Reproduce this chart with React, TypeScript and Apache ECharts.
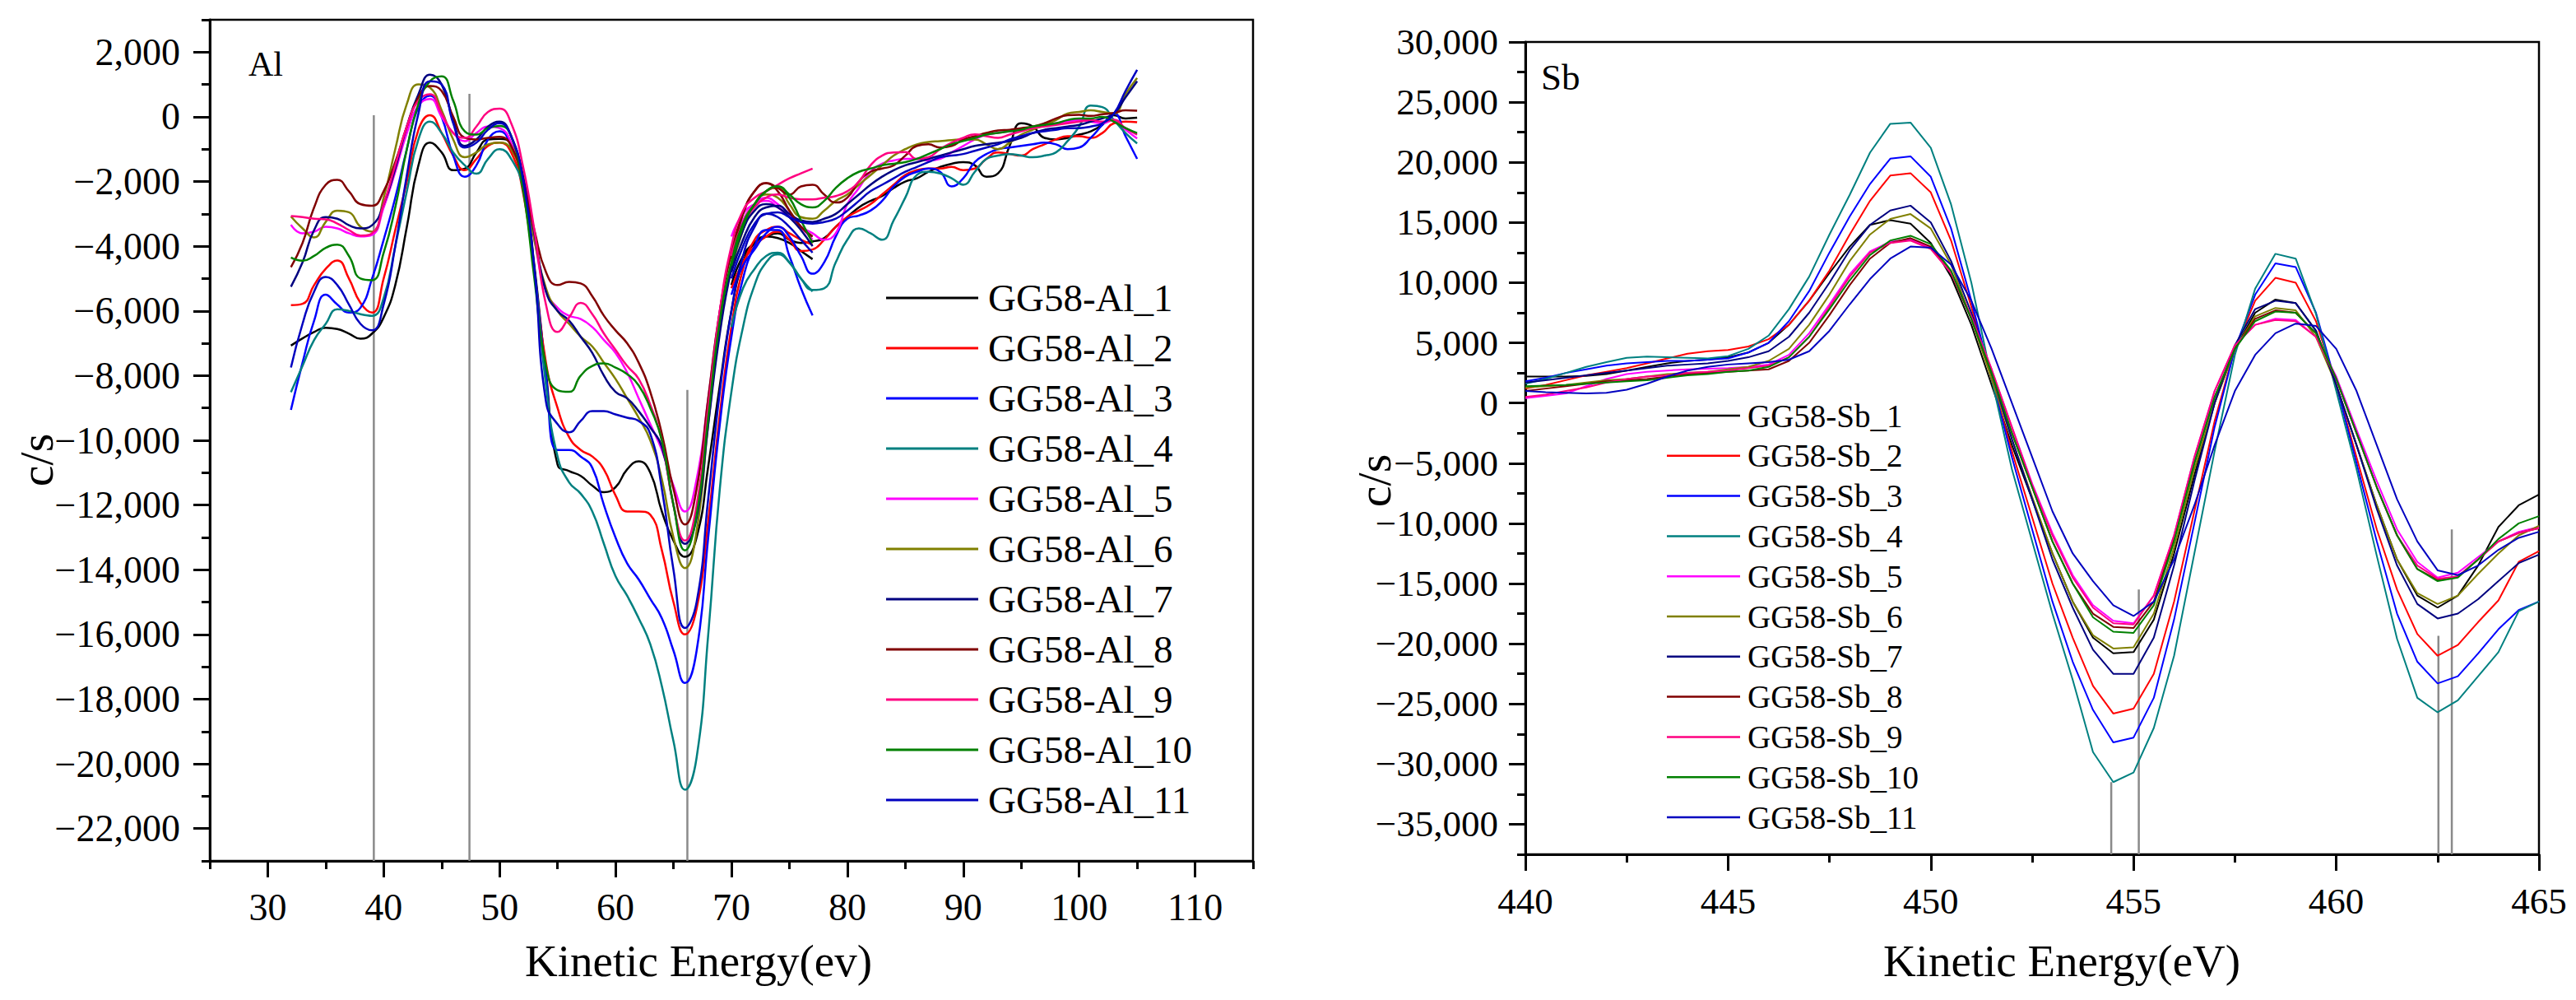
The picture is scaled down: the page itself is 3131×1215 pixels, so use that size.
import React, { useEffect, useRef } from 'react';
import * as echarts from 'echarts';

const FONT = "'Liberation Serif', 'Times New Roman', Times, serif";

// ---------- Al panel ----------
const alXA = [32, 33, 34, 35, 36, 37, 38, 39, 40, 41, 42, 43, 44, 45, 46, 47, 48, 49, 50, 51, 52, 53, 54, 55, 56, 57, 58, 59, 60, 61, 62, 63, 64, 65, 66, 67, 68, 69, 70, 71, 72, 73, 74, 75, 76, 77];
const alXB = [70, 71, 72, 73, 74, 75, 76, 77, 78, 79, 80, 81, 82, 83, 84, 85, 86, 87, 88, 89, 90, 91, 92, 93, 94, 95, 96, 97, 98, 99, 100, 101, 102, 103, 104, 105];

const al1A = [-7070, -6850, -6650, -6520, -6560, -6700, -6860, -6700, -6200, -5200, -3400, -1500, -800, -1100, -1650, -1600, -1100, -700, -680, -850, -1800, -4600, -7900, -10750, -10950, -11100, -11400, -11600, -11450, -10900, -10650, -11000, -12200, -13100, -13600, -13000, -10800, -8300, -6000, -4500, -3900, -3700, -3750, -3900, -4150, -4400];
const al2A = [-5820, -5780, -5200, -4700, -4440, -5000, -5750, -6050, -5000, -3500, -2000, -400, 50, -500, -1200, -1650, -1300, -900, -800, -1100, -2300, -4800, -7600, -9000, -9900, -10300, -10500, -10900, -11700, -12200, -12200, -12300, -13400, -15000, -16000, -15200, -12500, -9200, -6500, -4700, -3800, -3500, -3400, -3600, -3800, -3950];
const al3A = [-9060, -7600, -6300, -5500, -5800, -6050, -5900, -5000, -3800, -2500, -1000, 300, 650, 0, -1200, -1850, -1500, -700, -450, -900, -1900, -4700, -8000, -10300, -10300, -10500, -10850, -12000, -13000, -13800, -14300, -14900, -15500, -16500, -17500, -16500, -13000, -9500, -6800, -5000, -4000, -3500, -3500, -4300, -5300, -6140];
const al4A = [-8510, -7700, -6900, -6400, -5950, -6000, -6100, -6150, -5600, -4000, -2300, -700, -150, -500, -1100, -1500, -1760, -1300, -1000, -1300, -2200, -4800, -8300, -10500, -11300, -11650, -12200, -13200, -14200, -14800, -15500, -16300, -17600, -19300, -20800, -19800, -16000, -11500, -8500, -6500, -5200, -4500, -4250, -4500, -5000, -5400];
const al5A = [-3340, -3600, -3550, -3400, -3450, -3600, -3700, -3650, -2800, -1700, -500, 350, 550, 0, -500, -750, -500, -300, -350, -800, -2000, -3800, -5400, -5900, -6150, -6250, -6500, -6900, -7300, -7900, -8700, -9500, -10300, -11400, -12200, -11200, -8700, -6000, -4200, -3200, -2700, -2500, -2700, -3000, -3400, -3800];
const al6A = [-3080, -3450, -3730, -3250, -2900, -2950, -3400, -3550, -2500, -1000, 400, 1000, 900, 200, -700, -1250, -1100, -850, -800, -1000, -2000, -3800, -5300, -6000, -6400, -6800, -7100, -7600, -8100, -8700, -9300, -10000, -11200, -13000, -13950, -12800, -9500, -6500, -4500, -3300, -2700, -2400, -2500, -2900, -3400, -3700];
const al7A = [-5250, -4500, -3500, -3100, -3150, -3350, -3450, -3350, -2700, -1600, -300, 700, 1300, 1000, -100, -900, -700, -300, -150, -600, -1800, -3600, -5400, -6000, -6300, -6800, -7300, -8000, -8500, -8700, -9100, -9600, -10200, -12000, -13200, -12400, -9500, -6700, -4700, -3500, -2900, -2700, -2800, -3100, -3500, -4000];
const al8A = [-4650, -3900, -2800, -2100, -1950, -2300, -2700, -2750, -2300, -1400, -300, 600, 950, 800, 0, -650, -700, -650, -620, -900, -2000, -3500, -4800, -5200, -5100, -5150, -5550, -6150, -6600, -7000, -7600, -8500, -9800, -11500, -12600, -11500, -8700, -6000, -4200, -3000, -2300, -2050, -2300, -2900, -3400, -3700];
const al9A = [-3065, -3100, -3150, -3170, -3300, -3500, -3670, -3600, -2700, -1500, -300, 500, 700, 100, -500, -650, -300, 150, 250, -200, -1500, -3500, -5800, -6650, -6200, -5750, -6100, -6700, -7200, -7700, -8100, -8900, -10000, -12000, -13100, -12000, -9000, -6000, -4000, -2900, -2500, -2300, -2100, -1900, -1750, -1600];
const al10A = [-4350, -4450, -4300, -4050, -3950, -4300, -5000, -5050, -4200, -2800, -1000, 400, 1100, 1250, 500, -450, -550, -350, -280, -600, -2200, -5000, -7700, -8450, -8500, -8000, -7700, -7620, -7750, -7950, -8300, -9000, -10000, -12000, -13400, -12300, -9300, -6300, -4500, -3300, -2700, -2300, -2150, -2500, -3200, -3900];
const al11A = [-7750, -6400, -5400, -4950, -5200, -5800, -6400, -6600, -5800, -4000, -1800, 100, 1100, 1000, -200, -950, -800, -400, -200, -600, -1900, -4700, -8800, -9500, -9750, -9400, -9100, -9100, -9200, -9300, -9400, -9800, -11500, -14000, -15800, -15000, -11800, -8500, -6000, -4300, -3400, -3000, -3100, -3400, -3800, -4200];

const al1B = [-5200, -4300, -3900, -3700, -3600, -3800, -3900, -3850, -3750, -3400, -3100, -2800, -2600, -2450, -2200, -2000, -1900, -1700, -1550, -1450, -1400, -1500, -1850, -1750, -900, -200, -300, -650, -700, -650, -550, -450, -250, 50, -50, -30];
const al2B = [-5300, -4500, -4000, -3700, -3550, -3800, -4150, -4100, -3800, -3400, -3100, -2900, -2700, -2400, -2100, -1800, -1650, -1600, -1600, -1550, -1650, -1600, -1300, -1100, -1150, -1200, -1000, -850, -700, -600, -600, -650, -500, -200, -150, -170];
const al3B = [-5500, -4600, -4100, -3600, -3400, -3700, -4300, -4850, -4500, -3700, -3150, -3050, -2900, -2600, -2150, -1850, -1700, -1600, -1700, -2150, -1900, -1400, -1150, -1000, -950, -900, -850, -800, -850, -1000, -950, -650, -250, 100, -600, -1300];
const al4B = [-6500, -5300, -4700, -4300, -4200, -4500, -5000, -5350, -5300, -4500, -3800, -3450, -3600, -3800, -3200, -2500, -1800, -1700, -1750, -1900, -2100, -1700, -1300, -1200, -1150, -1200, -1250, -1200, -1100, -750, -300, 350, 300, -100, -500, -820];
const al5B = [-3700, -3000, -2700, -2600, -2800, -3100, -3400, -3600, -3800, -3600, -2700, -2200, -1700, -1450, -1350, -1300, -1300, -1350, -1300, -1100, -900, -700, -550, -500, -450, -400, -350, -250, -200, -150, -100, -150, -200, -100, -400, -670];
const al6B = [-4700, -3500, -2700, -2300, -2200, -2700, -3100, -3150, -2900, -2600, -2400, -2100, -1800, -1500, -1200, -1000, -850, -780, -750, -720, -700, -700, -850, -1000, -800, -550, -400, -250, -100, 100, 150, 200, 150, 100, 700, 1200];
const al7B = [-4800, -3800, -3100, -2800, -2750, -3000, -3200, -3250, -3150, -3000, -2700, -2400, -2100, -1850, -1650, -1500, -1400, -1300, -1200, -1100, -1000, -900, -850, -800, -750, -650, -500, -400, -350, -300, -250, -150, -50, 100, 600, 1100];
const al8B = [-4400, -3000, -2300, -2050, -2200, -2400, -2150, -2100, -2400, -2650, -2500, -2000, -1700, -1600, -1500, -1200, -900, -850, -950, -900, -700, -600, -500, -420, -400, -350, -300, -200, -50, 50, 60, 30, 80, 120, 200, 190];
const al9B = [-4300, -3300, -2800, -2500, -2400, -2500, -2550, -2550, -2500, -2450, -2300, -2000, -1500, -1200, -1100, -1090, -1300, -1250, -1000, -800, -650, -540, -600, -650, -550, -450, -350, -300, -250, -200, -150, -100, -150, -100, -350, -550];
const al10B = [-4600, -3400, -2700, -2300, -2150, -2400, -2700, -2800, -2600, -2200, -1900, -1700, -1600, -1500, -1450, -1400, -1300, -1150, -1000, -850, -750, -650, -550, -500, -450, -400, -300, -250, -200, -100, -50, -50, 0, -150, -350, -500];
const al11B = [-5000, -4000, -3300, -3000, -2950, -3100, -3250, -3300, -3250, -3150, -2900, -2600, -2300, -2100, -1900, -1700, -1550, -1400, -1250, -1200, -1150, -1050, -950, -850, -700, -600, -500, -450, -400, -350, -350, -300, -200, 100, 800, 1450];

const alNames = ['GG58-Al_1', 'GG58-Al_2', 'GG58-Al_3', 'GG58-Al_4', 'GG58-Al_5', 'GG58-Al_6', 'GG58-Al_7', 'GG58-Al_8', 'GG58-Al_9', 'GG58-Al_10', 'GG58-Al_11'];
const alSegA = [al1A, al2A, al3A, al4A, al5A, al6A, al7A, al8A, al9A, al10A, al11A];
const alSegB = [al1B, al2B, al3B, al4B, al5B, al6B, al7B, al8B, al9B, al10B, al11B];

const alMarkX = [39.15, 47.4, 66.2];
const alMarkTop = [50, 710, -8440];

const alXMajor = [30, 40, 50, 60, 70, 80, 90, 100, 110];
const alXMinor = [25, 35, 45, 55, 65, 75, 85, 95, 105, 115];
const alYMajor = [-22000, -20000, -18000, -16000, -14000, -12000, -10000, -8000, -6000, -4000, -2000, 0, 2000];
const alYMinor = [-23000, -21000, -19000, -17000, -15000, -13000, -11000, -9000, -7000, -5000, -3000, -1000, 1000, 3000];

// ---------- Sb panel ----------
const sbX = [440, 440.5, 441, 441.5, 442, 442.5, 443, 443.5, 444, 444.5, 445, 445.5, 446, 446.5, 447, 447.5, 448, 448.5, 449, 449.5, 450, 450.5, 451, 451.5, 452, 452.5, 453, 453.5, 454, 454.5, 455, 455.5, 456, 456.5, 457, 457.5, 458, 458.5, 459, 459.5, 460, 460.5, 461, 461.5, 462, 462.5, 463, 463.5, 464, 464.5, 465];

const sb1 = [2200, 2200, 2200, 2250, 2400, 2700, 3000, 3300, 3500, 3600, 3800, 4200, 5000, 6500, 8500, 10800, 13000, 14800, 15200, 14900, 13300, 10500, 6500, 1500, -3500, -8000, -12500, -16500, -19500, -20800, -20700, -18000, -12500, -6000, 0, 4500, 7500, 8600, 8300, 6000, 1500, -3500, -8500, -13000, -16000, -17000, -16000, -13500, -10300, -8500, -7600];
const sb2 = [1200, 1500, 1900, 2300, 2600, 2900, 3300, 3700, 4100, 4300, 4400, 4700, 5300, 6500, 8500, 11000, 14000, 16800, 18900, 19100, 17500, 13500, 8000, 2000, -4000, -9500, -15000, -19500, -23500, -25800, -25400, -22500, -16500, -9000, -1500, 4500, 8500, 10400, 10000, 6800, 1500, -4500, -10500, -15500, -19200, -21000, -20100, -18200, -16400, -13200, -12300];
const sb3 = [1800, 2100, 2500, 2800, 3100, 3300, 3400, 3500, 3500, 3600, 3700, 4200, 5000, 6800, 9300, 12500, 15500, 18200, 20300, 20500, 18800, 14500, 8500, 2000, -4500, -10500, -16500, -21500, -25500, -28200, -27800, -24500, -18000, -10000, -2000, 4500, 9000, 11600, 11300, 7500, 1500, -5000, -11500, -17500, -21500, -23300, -22700, -20800, -18800, -17200, -16500];
const sb4 = [1600, 2000, 2500, 3000, 3400, 3750, 3850, 3800, 3750, 3700, 3900, 4500, 5600, 7800, 10500, 14000, 17300, 20800, 23200, 23300, 21200, 16500, 10000, 2000, -5500, -11500, -17500, -23000, -29000, -31500, -30700, -27000, -21000, -12500, -4000, 4000, 9500, 12400, 12000, 7400, 1000, -5500, -12700, -19600, -24500, -25700, -24700, -22700, -20700, -17300, -16500];
const sb5 = [400, 600, 800, 1400, 2000, 2400, 2600, 2700, 2800, 2850, 2900, 3000, 3200, 4000, 5800, 8200, 10700, 12600, 13400, 13600, 12900, 10900, 7200, 2800, -2000, -6700, -10800, -14300, -16800, -18100, -18300, -16000, -11000, -4500, 1000, 4800, 6500, 7000, 6900, 5500, 2200, -2200, -6500, -10500, -13200, -14500, -14100, -12800, -11500, -10700, -10300];
const sb6 = [1300, 1400, 1500, 1700, 1900, 2000, 2200, 2400, 2500, 2600, 2800, 3000, 3500, 4500, 6500, 9000, 11800, 14000, 15300, 15700, 14500, 11500, 7000, 2000, -3000, -7800, -12500, -16500, -19300, -20400, -20300, -17500, -12000, -5500, 0, 4500, 7200, 7900, 7700, 5500, 1500, -3500, -8500, -13000, -15800, -16700, -16000, -14200, -12500, -11000, -10200];
const sb7 = [1700, 1900, 2100, 2300, 2500, 2700, 2900, 3100, 3200, 3300, 3500, 3800, 4300, 5500, 7500, 10000, 12700, 14800, 16000, 16400, 15000, 11800, 7500, 2500, -3000, -8000, -13000, -17000, -20500, -22500, -22500, -19500, -13500, -6500, 0, 4800, 7800, 8500, 8300, 6000, 1500, -3500, -8800, -13500, -16700, -17900, -17500, -16300, -14800, -13300, -12600];
const sb8 = [1000, 1200, 1400, 1600, 1800, 1900, 2000, 2200, 2400, 2500, 2600, 2700, 2800, 3500, 5000, 7300, 9800, 12000, 13300, 13700, 13000, 10800, 7000, 2500, -2500, -7000, -11500, -15000, -17500, -18600, -18700, -16500, -11200, -5000, 500, 4500, 7000, 7700, 7500, 5800, 2000, -2500, -7000, -11000, -13800, -14700, -14400, -13000, -11500, -10800, -10400];
const sb9 = [500, 700, 1000, 1300, 1700, 2000, 2200, 2300, 2500, 2600, 2700, 2900, 3100, 3800, 5500, 8000, 10500, 12500, 13300, 13500, 12800, 10800, 7200, 2800, -2000, -6800, -11000, -14500, -17000, -18300, -18400, -16000, -11000, -4500, 1000, 4800, 6500, 6900, 6800, 5500, 2000, -2500, -7000, -11000, -13500, -14600, -14400, -13000, -11500, -10800, -10400];
const sb10 = [1400, 1450, 1500, 1600, 1700, 1800, 1900, 2100, 2300, 2400, 2600, 2700, 3000, 3800, 5500, 7800, 10200, 12300, 13500, 13900, 13200, 11000, 7000, 2500, -2500, -7000, -11500, -15000, -17800, -19000, -19100, -16800, -11500, -5000, 500, 4500, 6800, 7600, 7500, 5800, 2000, -2500, -7000, -11000, -13800, -14800, -14500, -13000, -11300, -10000, -9400];
const sb11 = [1000, 900, 850, 800, 850, 1100, 1600, 2200, 2700, 3000, 3200, 3300, 3400, 3600, 4300, 6000, 8200, 10300, 12000, 13000, 12900, 11500, 8500, 4500, 0, -4500, -9000, -12500, -14800, -16800, -17700, -16500, -13000, -8500, -3500, 1000, 4000, 5800, 6600, 6400, 4500, 1000, -3500, -8000, -11500, -13900, -14300, -13500, -12200, -11200, -10700];

const sbNames = ['GG58-Sb_1', 'GG58-Sb_2', 'GG58-Sb_3', 'GG58-Sb_4', 'GG58-Sb_5', 'GG58-Sb_6', 'GG58-Sb_7', 'GG58-Sb_8', 'GG58-Sb_9', 'GG58-Sb_10', 'GG58-Sb_11'];
const sbSeries = [sb1, sb2, sb3, sb4, sb5, sb6, sb7, sb8, sb9, sb10, sb11];

const sbMarkX = [454.45, 455.13, 462.52, 462.85];
const sbMarkTop = [-31500, -15500, -19350, -10500];

const sbXMajor = [440, 445, 450, 455, 460, 465];
const sbXMinor = [442.5, 447.5, 452.5, 457.5, 462.5];
const sbYMajor = [-35000, -30000, -25000, -20000, -15000, -10000, -5000, 0, 5000, 10000, 15000, 20000, 25000, 30000];
const sbYMinor = [-37500, -32500, -27500, -22500, -17500, -12500, -7500, -2500, 2500, 7500, 12500, 17500, 22500, 27500];

const colors = ['#000000', '#ff0000', '#0000ff', '#008080', '#ff00ff', '#808000', '#000080', '#800000', '#ff0080', '#008000', '#0000c0'];

const fmt = (v: number) => (v < 0 ? '\u2212' : '') + Math.abs(v).toLocaleString('en-US');

const axisPair = (
  dim: 'x' | 'y',
  gridIndex: number,
  min: number,
  max: number,
  major: number[],
  minor: number[],
  size: number,
  margin: number
) => {
  const common = {
    type: 'value',
    gridIndex,
    min,
    max,
    position: dim === 'x' ? 'bottom' : 'left',
    splitLine: { show: false },
  };
  return [
    {
      ...common,
      axisLine: { show: true, onZero: false, lineStyle: { color: '#000', width: 3 } },
      axisTick: { show: true, inside: false, length: 20, customValues: major, lineStyle: { color: '#000', width: 3 } },
      axisLabel: {
        show: true,
        customValues: major,
        showMinLabel: true,
        showMaxLabel: true,
        margin,
        formatter: fmt,
        fontSize: size,
        fontFamily: FONT,
        color: '#000',
      },
    },
    {
      ...common,
      axisLine: { show: false, onZero: false },
      axisTick: { show: true, inside: false, length: 10, customValues: minor, lineStyle: { color: '#000', width: 3 } },
      axisLabel: { show: false },
    },
  ];
};

const buildOption = () => {
  const series: any[] = [];

  alMarkX.forEach((x, i) => {
    series.push({
      type: 'line',
      xAxisIndex: 0,
      yAxisIndex: 0,
      data: [[x, alMarkTop[i]], [x, -23000]],
      symbol: 'none',
      silent: true,
      lineStyle: { color: '#8a8a8a', width: 2.5 },
      z: 1,
    });
  });
  alNames.forEach((name, i) => {
    const style = { color: colors[i], width: 2.5 };
    series.push({
      name,
      type: 'line',
      xAxisIndex: 0,
      yAxisIndex: 0,
      data: alXA.map((x, j) => [x, alSegA[i][j]]),
      smooth: true,
      symbol: 'none',
      lineStyle: style,
      itemStyle: { color: colors[i] },
      z: 2,
    });
    series.push({
      name,
      type: 'line',
      xAxisIndex: 0,
      yAxisIndex: 0,
      data: alXB.map((x, j) => [x, alSegB[i][j]]),
      smooth: true,
      symbol: 'none',
      lineStyle: style,
      itemStyle: { color: colors[i] },
      z: 2,
    });
  });

  sbMarkX.forEach((x, i) => {
    series.push({
      type: 'line',
      xAxisIndex: 2,
      yAxisIndex: 2,
      data: [[x, sbMarkTop[i]], [x, -37500]],
      symbol: 'none',
      silent: true,
      lineStyle: { color: '#8a8a8a', width: 2.5 },
      z: 1,
    });
  });
  sbNames.forEach((name, i) => {
    series.push({
      name,
      type: 'line',
      xAxisIndex: 2,
      yAxisIndex: 2,
      data: sbX.map((x, j) => [x, sbSeries[i][j]]),
      symbol: 'none',
      lineStyle: { color: colors[i], width: 2 },
      itemStyle: { color: colors[i] },
      z: 2,
    });
  });

  const textEl = (x: number, y: number, text: string, size: number, align: string, valign: string, rotation = 0) => ({
    type: 'text',
    x,
    y,
    rotation,
    silent: true,
    style: {
      text,
      font: `${size}px ${FONT}`,
      fill: '#000',
      textAlign: align,
      textVerticalAlign: valign,
      align,
      verticalAlign: valign,
    },
  });

  return {
    animation: false,
    backgroundColor: '#ffffff',
    textStyle: { fontFamily: FONT },
    grid: [
      { left: 255, top: 24, width: 1268, height: 1022, show: true, borderColor: '#000', borderWidth: 2.5 },
      { left: 1854, top: 51, width: 1232, height: 987, show: true, borderColor: '#000', borderWidth: 2.5 },
    ],
    xAxis: [
      ...axisPair('x', 0, 25, 115, alXMajor, alXMinor, 46, 33),
      ...axisPair('x', 1, 440, 465, sbXMajor, sbXMinor, 45, 34),
    ],
    yAxis: [
      ...axisPair('y', 0, -23000, 3000, alYMajor, alYMinor, 46, 36),
      ...axisPair('y', 1, -37500, 30000, sbYMajor, sbYMinor, 45, 33),
    ],
    legend: [
      {
        data: alNames,
        orient: 'vertical',
        left: 1077,
        top: 337,
        padding: 0,
        icon: 'rect',
        itemWidth: 112,
        itemHeight: 3,
        itemGap: 11,
        selectedMode: false,
        textStyle: { fontSize: 47, lineHeight: 50, fontFamily: FONT, color: '#000', padding: [0, 0, 0, 7] },
      },
      {
        data: sbNames,
        orient: 'vertical',
        left: 2026,
        top: 485,
        padding: 0,
        icon: 'rect',
        itemWidth: 89,
        itemHeight: 2.5,
        itemGap: 8.8,
        selectedMode: false,
        textStyle: { fontSize: 39, lineHeight: 40, fontFamily: FONT, color: '#000', padding: [0, 0, 0, 4] },
      },
    ],
    graphic: [
      textEl(302, 57, 'Al', 42, 'left', 'top'),
      textEl(1873, 71, 'Sb', 45, 'left', 'top'),
      textEl(849, 1167, 'Kinetic Energy(ev)', 55, 'center', 'middle'),
      textEl(2506, 1167, 'Kinetic Energy(eV)', 55, 'center', 'middle'),
      textEl(44, 559, 'c/s', 58, 'center', 'middle', Math.PI / 2),
      textEl(1670, 584, 'c/s', 58, 'center', 'middle', Math.PI / 2),
    ],
    series,
  };
};

const App: React.FC = () => {
  const chartRef = useRef<HTMLDivElement>(null);

  useEffect(() => {
    if (!chartRef.current) return;
    const chart = echarts.init(chartRef.current, undefined, { renderer: 'svg' });
    chart.setOption(buildOption() as any);
    return () => {
      chart.dispose();
    };
  }, []);

  return (
    <div
      ref={chartRef}
      style={{ position: 'fixed', left: 0, top: 0, width: 3131, height: 1215, background: '#fff' }}
    />
  );
};

export default App;
